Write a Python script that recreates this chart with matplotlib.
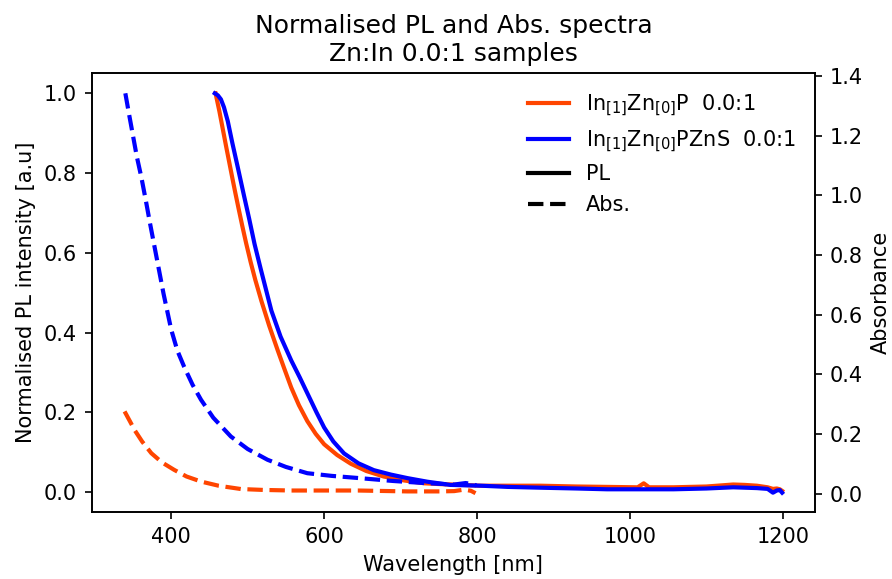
import matplotlib
matplotlib.use("Agg")
import matplotlib.pyplot as plt
from matplotlib.lines import Line2D

# PL spectra (normalised, left axis)
pl_wl_p = [458, 463, 468, 472, 476, 480, 484, 488, 493, 498, 504, 510, 518, 528, 539, 548, 557,
           567, 578, 589, 600, 617, 635, 655, 678, 705, 731, 752, 780, 805, 840, 883, 930, 970,
           1010, 1018, 1025, 1057, 1100, 1135, 1150, 1166, 1180, 1187, 1192, 1196, 1199]
pl_p = [1.0, 0.955, 0.905, 0.865, 0.826, 0.787, 0.749, 0.712, 0.667, 0.624, 0.576, 0.532, 0.479,
        0.418, 0.357, 0.309, 0.262, 0.218, 0.178, 0.146, 0.12, 0.093, 0.071, 0.053, 0.039,
        0.029, 0.022, 0.020, 0.018, 0.016, 0.016, 0.016, 0.014, 0.013, 0.012, 0.022, 0.012,
        0.012, 0.014, 0.019, 0.018, 0.016, 0.012, 0.008, 0.009, 0.007, 0.003]

pl_wl_pzns = [457, 461, 465, 469, 474, 480, 487, 495, 502, 509, 517, 523, 531, 543, 557, 568,
              578, 590, 600, 612, 626, 645, 665, 687, 709, 735, 765, 805, 840, 883, 930, 970,
              1057, 1100, 1135, 1166, 1180, 1187, 1192, 1196, 1199]
pl_pzns = [1.0, 0.995, 0.985, 0.965, 0.93, 0.875, 0.815, 0.745, 0.685, 0.622, 0.56, 0.515,
           0.455, 0.39, 0.33, 0.288, 0.248, 0.2, 0.162, 0.127, 0.097, 0.072, 0.055, 0.044, 0.035,
           0.026, 0.018, 0.016, 0.013, 0.011, 0.009, 0.007, 0.007, 0.009, 0.012, 0.010, 0.008,
           -0.0015, 0.004, 0.005, -0.0015]

# Absorbance spectra (right axis)
abs_wl_p = [339, 346, 352, 362, 374, 388, 404, 420, 439, 462, 491, 520, 557, 600, 644, 709,
            752, 770, 783, 792, 798]
abs_p = [0.276, 0.243, 0.214, 0.175, 0.136, 0.105, 0.080, 0.058, 0.041, 0.027, 0.016, 0.013,
         0.011, 0.011, 0.011, 0.008, 0.008, 0.009, 0.014, 0.010, 0.002]

abs_wl_pzns = [340, 345, 350, 355, 361, 367, 372, 378, 384, 390, 400, 408, 417, 428, 439, 455,
               478, 500, 526, 550, 578, 610, 644, 690, 731, 770, 785, 793, 799]
abs_pzns = [1.342, 1.27, 1.2, 1.13, 1.06, 0.98, 0.91, 0.83, 0.75, 0.67, 0.55, 0.48, 0.425,
            0.365, 0.315, 0.255, 0.192, 0.15, 0.114, 0.09, 0.069, 0.06, 0.053, 0.043, 0.036,
            0.031, 0.036, 0.033, 0.028]

label_p = "In$_{[1]}$Zn$_{[0]}$P  0.0:1"
label_pzns = "In$_{[1]}$Zn$_{[0]}$PZnS  0.0:1"
color_p = "#ff4500"
color_pzns = "#0000ff"

fig, ax = plt.subplots(figsize=(892 / 150, 579 / 150), dpi=150)
fig.subplots_adjust(left=0.1028, right=0.9137, bottom=0.1152, top=0.8739)
ax2 = ax.twinx()

ax.plot(pl_wl_p, pl_p, color=color_p, lw=2)
ax.plot(pl_wl_pzns, pl_pzns, color=color_pzns, lw=2)
ax2.plot(abs_wl_p, abs_p, color=color_p, lw=2, ls="--")
ax2.plot(abs_wl_pzns, abs_pzns, color=color_pzns, lw=2, ls="--")

ax.set_ylim(-0.0507, 1.051)
ax2.set_ylim(-0.062, 1.41)
ax.set_xlabel("Wavelength [nm]")
ax.set_ylabel("Normalised PL intensity [a.u]")
ax2.set_ylabel("Absorbance")
ax.set_title("Normalised PL and Abs. spectra\nZn:In 0.0:1 samples")

handles = [Line2D([], [], color=color_p, lw=2, label=label_p),
           Line2D([], [], color=color_pzns, lw=2, label=label_pzns),
           Line2D([], [], color="black", lw=2, label="PL"),
           Line2D([], [], color="black", lw=2, ls="--", label="Abs.")]
ax2.legend(handles=handles, loc="upper right", frameon=False)

fig.savefig("out.png", dpi=150)
